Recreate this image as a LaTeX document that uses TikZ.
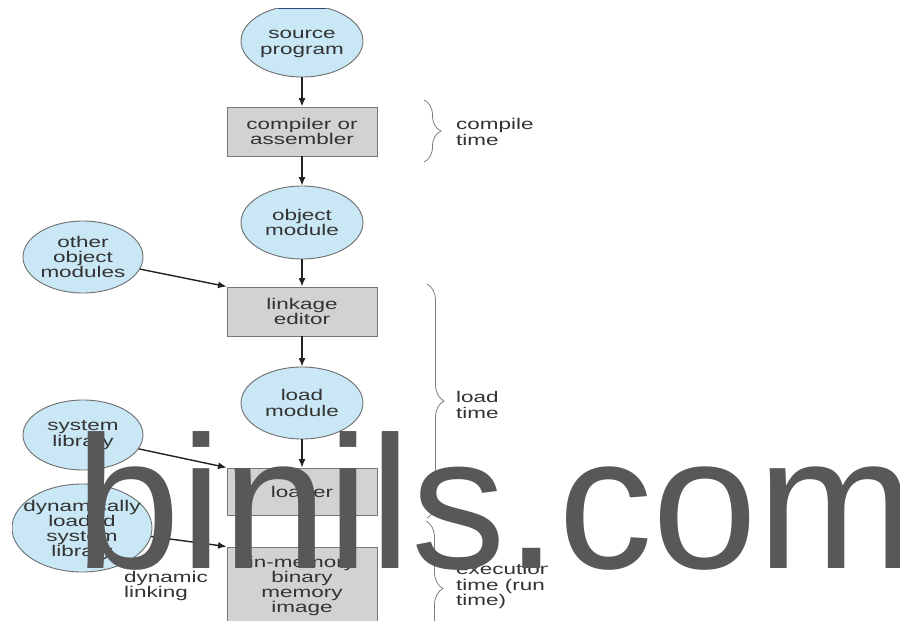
\documentclass[tikz,border=0pt]{standalone}
\usepackage{fontspec}
\setmainfont{Liberation Sans}[FakeStretch=1.45]
\newfontfamily\wmfont{Liberation Sans}
\usetikzlibrary{shapes.geometric,arrows.meta,decorations.pathreplacing}
\definecolor{txt}{HTML}{333333}
\definecolor{ellfill}{HTML}{C9E7F5}
\definecolor{ellline}{HTML}{6E6E6E}
\definecolor{boxfill}{HTML}{D2D2D2}
\definecolor{boxline}{HTML}{767676}
\definecolor{arrc}{HTML}{222222}
\definecolor{brcol}{HTML}{7E7E7E}
\definecolor{wm}{HTML}{585858}
\definecolor{navyline}{HTML}{2B4A78}
\begin{document}
\begin{tikzpicture}[x=1pt,y=-1pt,
  ell/.style={ellipse, draw=ellline, fill=ellfill, line width=0.9pt, inner sep=0pt},
  etxt/.style={inner sep=0pt, align=center, text=txt, font=\fontsize{15.5}{15.3}\selectfont},
  box/.style={rectangle, draw=boxline, fill=boxfill, line width=0.9pt, inner sep=0pt,
              minimum width=150pt, align=center, text=txt, font=\fontsize{15.5}{15.3}\selectfont},
  arr/.style={-{Latex[length=8.5pt,width=7pt]}, line width=1.4pt, draw=arrc},
  brc/.style={decorate, decoration={brace, amplitude=17pt, aspect=0.5}, draw=brcol, line width=0.8pt},
  lbl/.style={anchor=west, align=left, inner sep=0pt, text=txt, font=\fontsize{15.5}{15.3}\selectfont}]
\fill[white] (0,0) rectangle (900,621);
\useasboundingbox (0,0) rectangle (900,621);
\begin{scope}
\clip (12,8) rectangle (547,621);
% ellipses
\node[ell, minimum width=122pt, minimum height=72pt] (src) at (302,41) {};
\node[etxt] (srct) at ([yshift=-3pt]src.center) {source\\program};
\node[ell, minimum width=122pt, minimum height=73pt] (obj) at (302,222.5) {};
\node[etxt] (objt) at (obj) {object\\module};
\node[ell, minimum width=120pt, minimum height=72pt] (other) at (83,257) {};
\node[etxt] (othert) at (other) {other\\object\\modules};
\node[ell, minimum width=122pt, minimum height=72pt] (load) at (302,403) {};
\node[etxt] (loadt) at (load) {load\\module};
\node[ell, minimum width=120pt, minimum height=70pt] (sys) at (83,435) {};
\node[etxt] (syst) at (sys) {system\\library};
\node[ell, minimum width=140pt, minimum height=88pt] (dyn) at (82,528) {};
\node[etxt] (dynt) at ([yshift=-2pt]dyn.center) {dynamically\\loaded\\system\\library};
% boxes
\node[box, minimum height=49pt] (comp) at (302,131.5) {compiler or\\assembler};
\node[box, minimum height=49pt] (link) at (302,311.5) {linkage\\editor};
\node[box, minimum height=47pt] (loader) at (302,491.5) {loader};
\node[box, minimum height=78pt] (inmem) at (302,586) {in-memory\\binary\\memory\\image};
% arrows
\draw[arr] (src) -- (comp);
\draw[arr] (comp) -- (obj);
\draw[arr] (obj) -- (link);
\draw[arr] (link) -- (load);
\draw[arr] (load) -- (loader);
\draw[arr] (loader) -- (inmem);
\draw[arr] (other.-12) -- (link.north west);
\draw[arr] (sys.-14) -- (loader.north west);
\draw[arr] (dyn.-7) -- (inmem.north west);
% top edge of source ellipse
\draw[navyline, line width=1.4pt] (278,8.7) -- (326,8.7);
% braces
\draw[brc] (424,100) -- (424,162);
\draw[brc] (427,284) -- (427,518);
\draw[brc] (426,521) -- (426,656);
% labels
\node[lbl] (ctime) at (456,132) {compile\\time};
\node[lbl] (ltime) at (456,405) {load\\time};
\node[lbl] (etime) at (456,586) {execution\\time (run\\time)};
\node[lbl] (dlink) at (124,586) {dynamic\\linking};
\end{scope}
% watermark
\node[anchor=base west, inner sep=0pt, text=wm, font=\wmfont\fontsize{189}{189}\selectfont] (wmark) at (75,568) {binils.com};
\end{tikzpicture}
\end{document}
